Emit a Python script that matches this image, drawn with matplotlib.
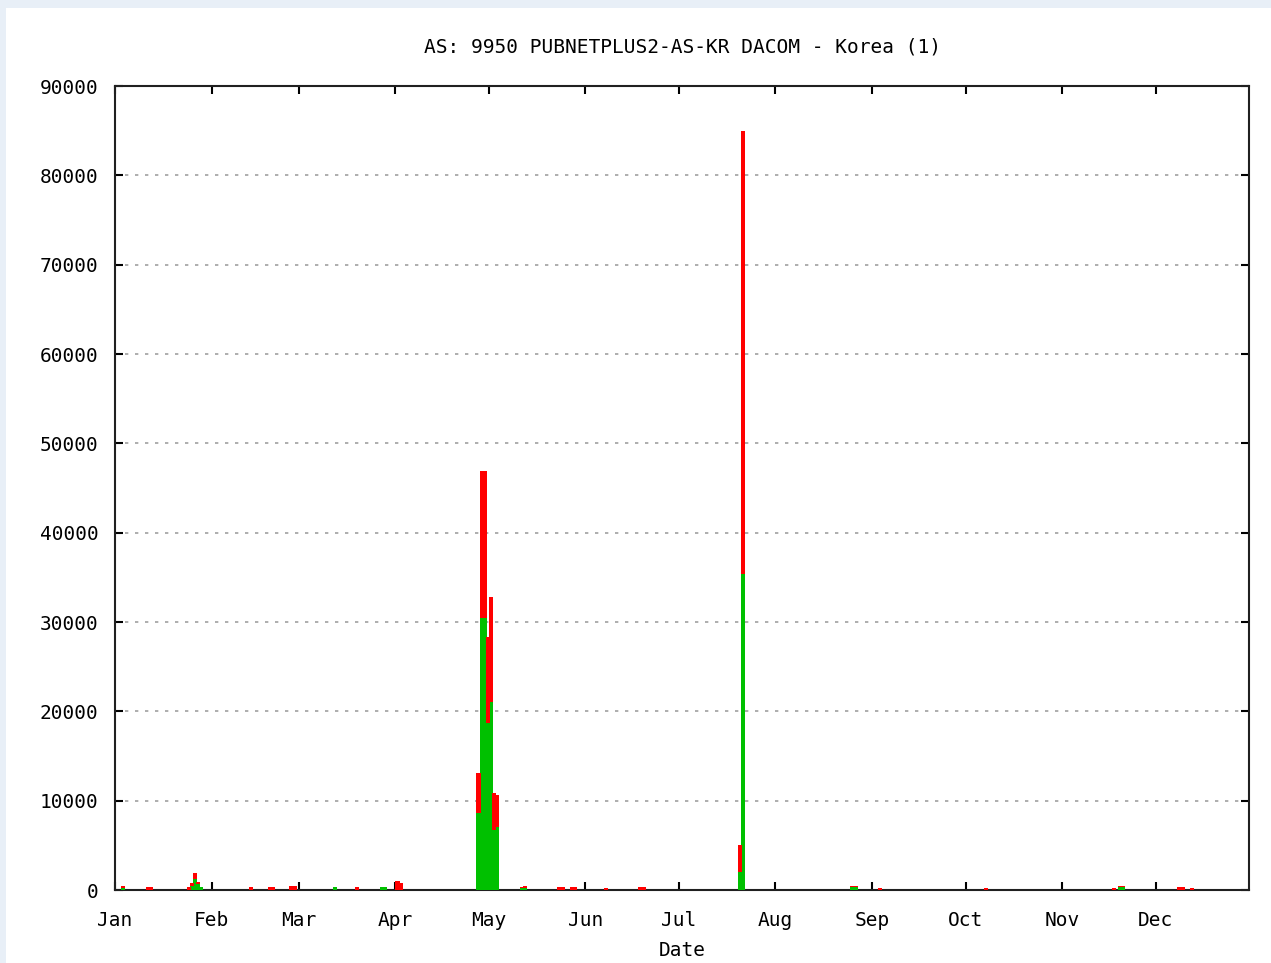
import numpy as np
import matplotlib
matplotlib.use("Agg")
import matplotlib.pyplot as plt
from matplotlib.patches import Rectangle

# day of year (0 = Jan 1), green part, total (green + red)
days = [2, 10, 11, 23, 24, 25, 26, 27, 43, 49, 50, 56, 57, 70, 77, 85, 86, 90, 91,
        116, 117, 118, 119, 120, 121, 122, 130, 131, 142, 143, 146, 147, 157, 168, 169,
        200, 201, 236, 237, 245, 279, 320, 322, 323, 341, 342, 345]
green = [250, 0, 0, 0, 500, 1200, 700, 300, 0, 0, 0, 0, 0, 300, 0, 300, 300, 0, 0,
         8600, 30500, 30500, 18700, 21000, 6700, 7000, 200, 200, 0, 0, 0, 0, 0, 0, 0,
         2000, 35400, 300, 300, 0, 0, 0, 300, 300, 0, 0, 0]
total = [500, 300, 300, 300, 800, 1900, 900, 300, 300, 300, 300, 400, 400, 300, 300, 300, 300, 1000, 800,
         13100, 46900, 46900, 28300, 32800, 10900, 10600, 300, 500, 300, 300, 300, 300, 250, 300, 300,
         5000, 85000, 500, 500, 250, 250, 250, 500, 500, 300, 300, 250]

month_starts = [0, 31, 59, 90, 120, 151, 181, 212, 243, 273, 304, 334]
month_labels = ['Jan', 'Feb', 'Mar', 'Apr', 'May', 'Jun', 'Jul', 'Aug', 'Sep', 'Oct', 'Nov', 'Dec']

days = np.array(days)
green = np.array(green)
red = np.array(total) - green

plt.rcParams['font.family'] = ['DejaVu Sans Mono']
fig = plt.figure(figsize=(12.71, 9.63), dpi=100, facecolor='#e8eff7')
# white panel behind the plot
fig.patches.append(Rectangle((6 / 1271, 0), 1 - 6 / 1271, 1 - 8 / 963,
                             transform=fig.transFigure, facecolor='white',
                             edgecolor='none', zorder=-5))

ax = fig.add_axes([115 / 1271, 1 - 890 / 963, (1249 - 115) / 1271, (890 - 86) / 963])
ax.set_facecolor('white')

ax.bar(days, green, width=1.35, align='edge', color='#00c000', linewidth=0, zorder=3)
ax.bar(days, red, width=1.35, bottom=green, align='edge', color='#ff0000', linewidth=0, zorder=3)

ax.set_xlim(0, 364)
ax.set_ylim(0, 90000)
ax.set_yticks(np.arange(0, 90001, 10000))
ax.set_xticks(month_starts)
ax.set_xticklabels(month_labels)
ax.grid(axis='y', color='#a0a0a0', linestyle=(0, (2, 4)), linewidth=1.2, zorder=1)

ax.tick_params(direction='in', length=6, width=1.5, top=True, right=True,
               labelsize=14, pad=15, colors='black')
ax.tick_params(axis='y', pad=12)
for s in ax.spines.values():
    s.set_linewidth(1.5)
    s.set_color('#202020')

ax.set_title('AS: 9950 PUBNETPLUS2-AS-KR DACOM - Korea (1)', fontsize=14, pad=24)
ax.set_xlabel('Date', fontsize=14, labelpad=8)

fig.savefig('out.png', dpi=100, facecolor=fig.get_facecolor())
